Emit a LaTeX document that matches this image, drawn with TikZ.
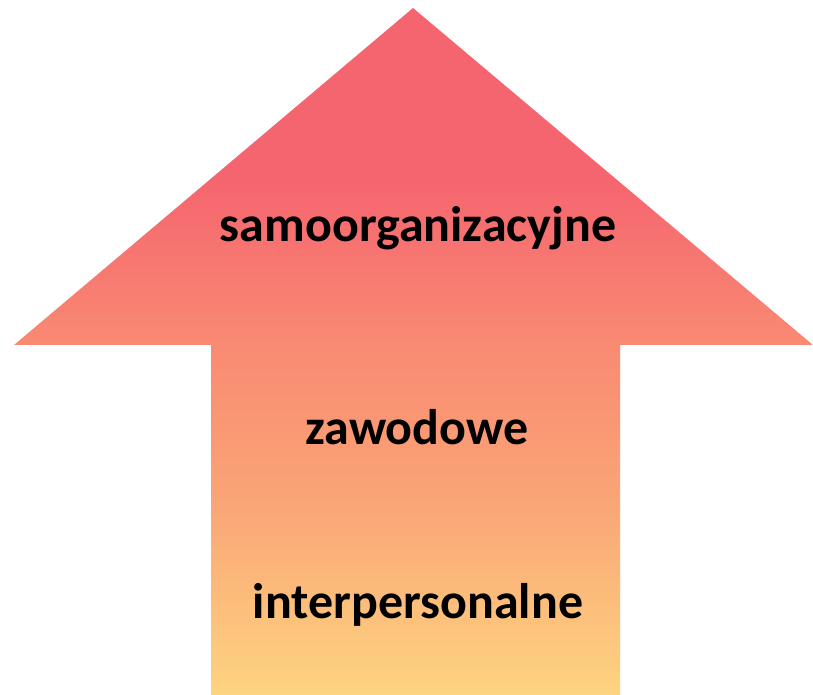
\documentclass[tikz,border=0pt]{standalone}
\usepackage{fontspec}
\setmainfont{Carlito}
\definecolor{cR}{HTML}{F5656F}
\definecolor{cS}{HTML}{F98A73}
\definecolor{cO}{HTML}{FAA576}
\definecolor{cY}{HTML}{FDD480}
\pgfdeclareverticalshading{arrowshade}{100bp}{color(0bp)=(cY); color(25bp)=(cY); color(39bp)=(cO); color(50.5bp)=(cS); color(62.5bp)=(cR); color(100bp)=(cR)}
\tikzset{lbl/.style={font=\fontsize{50}{56}\selectfont\bfseries, text=black, inner sep=0pt}}
\begin{document}
\begin{tikzpicture}[x=1pt,y=1pt]
\useasboundingbox (0,0) rectangle (813,695);
\path[shading=arrowshade] (211,0) -- (211,350) -- (14,350) -- (413,687) -- (813,350) -- (620,350) -- (620,0) -- cycle;
\node[lbl] (t1) at (418,467) {samoorganizacyjne};
\node[lbl] (t2) at (417,268) {zawodowe};
\node[lbl] (t3) at (418,90) {interpersonalne};
\end{tikzpicture}
\end{document}
